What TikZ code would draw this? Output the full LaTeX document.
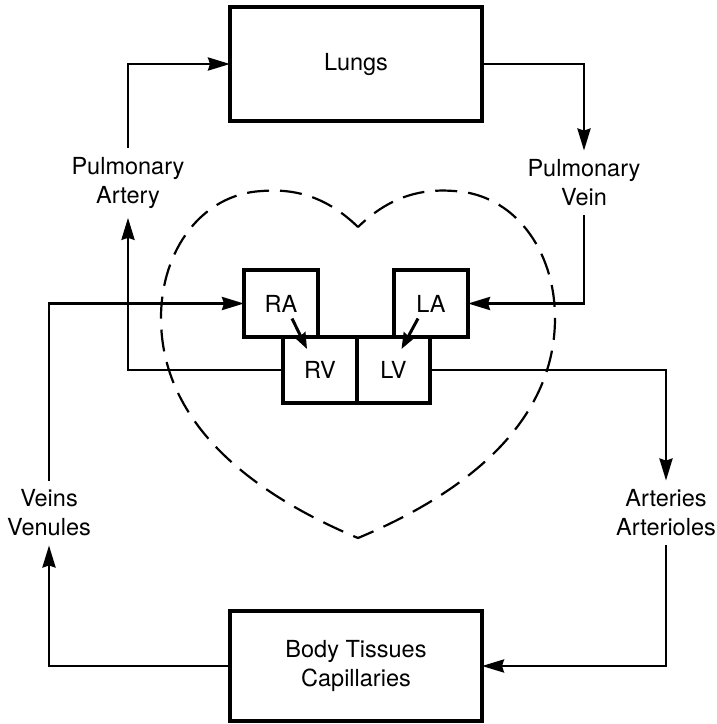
\documentclass[tikz,border=0pt]{standalone}
\usepackage{fontspec}
\setmainfont{TeX Gyre Heros}
\usepackage{tikz}
\usetikzlibrary{arrows.meta,positioning}
\newcommand\lblfont{\fontsize{23.5pt}{29pt}\selectfont}

\begin{document}
\begin{tikzpicture}[x=1pt, y=-1pt,
  organ/.style={draw, line width=4pt, minimum width=252pt, align=center, font=\lblfont, outer sep=0pt},
  chamber/.style={draw, line width=4pt, minimum width=74pt, minimum height=67pt, font=\lblfont, outer sep=0pt},
  vessel/.style={align=center, font=\lblfont, inner xsep=0pt, inner ysep=9pt},
  arr/.style={-{Stealth[length=22pt, width=13pt, inset=2pt]}, line width=2.8pt},
  valve/.style={-{Stealth[length=16pt, width=12pt, inset=1.5pt]}, line width=3pt},
  heart/.style={dash pattern=on 22pt off 11pt, line width=2.2pt}]
\useasboundingbox (0,0) rectangle (717,724);
\node[organ, minimum height=114pt] (lungs) at (356,64) {Lungs};
\node[organ, minimum height=110pt] (tissues) at (356,666) {Body Tissues\\Capillaries};
\node[vessel] (partery) at (128,183) {Pulmonary\\Artery};
\node[vessel] (pvein) at (584,183) {Pulmonary\\Vein};
\node[vessel] (veins) at (49,513) {Veins\\Venules};
\node[vessel] (arteries) at (666,513) {Arteries\\Arterioles};
\draw[heart] (358,227) .. controls (330,200) and (300,188) .. (262,191)
  .. controls (202,194) and (161,250) .. (161,318)
  .. controls (161,425) and (255,495) .. (358,538)
  .. controls (461,495) and (555,425) .. (555,318)
  .. controls (555,250) and (514,194) .. (454,191)
  .. controls (416,188) and (386,200) .. (358,227);
\node[chamber] (ra) at (281,303.5) {RA};
\node[chamber] (la) at (431,303.5) {LA};
\node[chamber, minimum height=66pt] (rv) at (320,370) {RV};
\node[chamber, minimum height=66pt, minimum width=73pt, right=0pt of rv] (lv) {LV};
\foreach \a/\b in {partery.north/lungs.west, pvein.south/la.east, arteries.south/tissues.east, veins.north/ra.west}
  \draw[arr] (\a) |- (\b);
\foreach \a/\b in {lungs.east/pvein.north, rv.west/partery.south, lv.east/arteries.north, tissues.west/veins.south}
  \draw[arr] (\a) -| (\b);
\draw[valve] ([shift={(11,15)}]ra.center) -- ([shift={(-13,-21)}]rv.center);
\draw[valve] ([shift={(-13,15)}]la.center) -- ([shift={(8,-21)}]lv.center);
\end{tikzpicture}
\end{document}
